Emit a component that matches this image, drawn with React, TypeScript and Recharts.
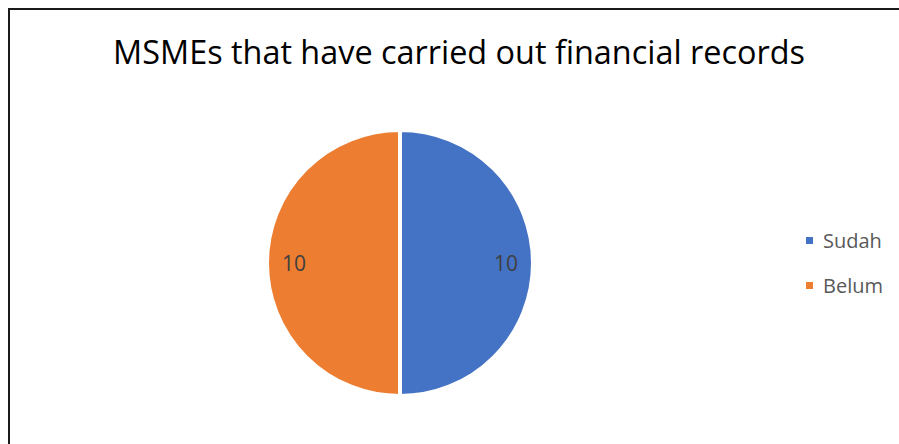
import { PieChart, Pie, Cell, Legend } from "recharts";

const categories = ["Sudah", "Belum"];
const values = [10, 10];
const colors = ["#4472C4", "#ED7D31"];
const title = "MSMEs that have carried out financial records";

const data = categories.map((name, i) => ({ name, value: values[i] }));

const RADIAN = Math.PI / 180;

const renderLabel = (props: any) => {
  const { cx, cy, midAngle, value } = props;
  const r = 106;
  const x = cx + r * Math.cos(-midAngle * RADIAN);
  const y = cy + r * Math.sin(-midAngle * RADIAN);
  return (
    <text
      x={x}
      y={y}
      fill="#404040"
      fontSize={21}
      fontFamily="Open Sans, sans-serif"
      textAnchor="middle"
      dominantBaseline="central"
    >
      {value}
    </text>
  );
};

// keep legend in the same order as the categories
const renderLegend = (props: any) => {
  const items = [...(props.payload || [])].sort(
    (a: any, b: any) => categories.indexOf(a.value) - categories.indexOf(b.value)
  );
  return (
    <div style={{ fontFamily: "Open Sans, sans-serif" }}>
      {items.map((entry: any) => (
        <div
          key={entry.value}
          style={{ display: "flex", alignItems: "center", height: 45, color: "#595959", fontSize: 20 }}
        >
          <span
            style={{ width: 7, height: 7, background: entry.color, marginRight: 10, display: "inline-block" }}
          />
          {entry.value}
        </div>
      ))}
    </div>
  );
};

const App = () => {
  return (
    <div
      style={{
        position: "fixed",
        left: 8,
        top: 8,
        width: 891,
        height: 436,
        overflow: "hidden",
        borderLeft: "2px solid #1a1a1a",
        borderTop: "2px solid #1a1a1a",
        boxSizing: "border-box",
        background: "#fff",
      }}
    >
      <div
        style={{
          position: "absolute",
          left: 0,
          width: 898,
          top: 19,
          textAlign: "center",
          fontFamily: "Open Sans, sans-serif",
          fontSize: 32.4,
          color: "#000",
          whiteSpace: "nowrap",
        }}
      >
        {title}
      </div>
      <PieChart width={889} height={434} margin={{ top: 0, right: 0, bottom: 0, left: 0 }}>
        <Pie
          data={data}
          dataKey="value"
          nameKey="name"
          cx={390}
          cy={253}
          outerRadius={133}
          startAngle={90}
          endAngle={-270}
          stroke="#fff"
          strokeWidth={4}
          label={renderLabel}
          labelLine={false}
          isAnimationActive={false}
        >
          {data.map((d, i) => (
            <Cell key={d.name} fill={colors[i]} />
          ))}
        </Pie>
        <Legend
          layout="vertical"
          content={renderLegend}
          wrapperStyle={{ position: "absolute", left: 796, top: 208, width: 100 }}
        />
      </PieChart>
    </div>
  );
};

export default App;
